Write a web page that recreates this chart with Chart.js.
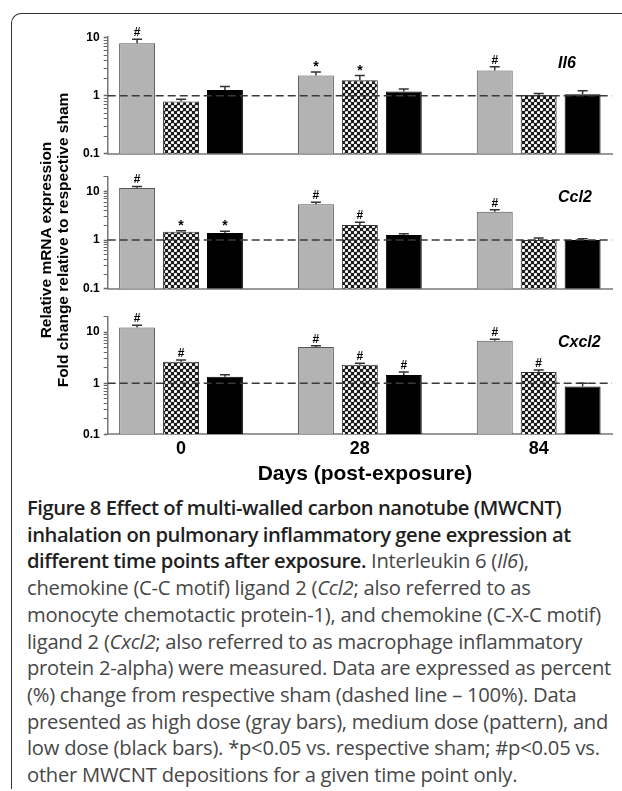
<!DOCTYPE html>
<html>
<head>
<meta charset="utf-8">
<script src="https://cdn.jsdelivr.net/npm/chart.js@4.4.1/dist/chart.umd.min.js"></script>
<style>
  body {
    margin: 0;
    width: 622px;
    height: 791px;
    overflow: hidden;
    position: relative;
    background: #fff;
    font-family: "Liberation Sans", Arial, sans-serif;
  }
  .frame {
    position: absolute;
    left: 11px;
    top: 13px;
    width: 650px;
    height: 775px;
    border-left: 1.5px solid #333;
    border-top: 1.5px solid #333;
    border-top-left-radius: 10px;
  }
  canvas { position: absolute; left: 0; }
  .gene {
    position: absolute;
    left: 558px;
    font: italic bold 16px "Liberation Sans", Arial, sans-serif;
    line-height: 18px;
  }
  .ytitle {
    position: absolute;
    left: -116px;
    top: 223px;
    width: 340px;
    height: 34px;
    transform: rotate(-90deg);
    text-align: center;
    font: bold 15.5px "Liberation Sans", Arial, sans-serif;
    line-height: 17px;
  }
  .xtitle {
    position: absolute;
    left: 215px;
    width: 300px;
    top: 460px;
    text-align: center;
    font: bold 21px "Liberation Sans", Arial, sans-serif;
    line-height: 25px;
  }
  .caption {
    position: absolute;
    left: 27px;
    top: 494px;
    white-space: nowrap;
    font-family: "Open Sans", sans-serif;
    font-size: 20.2px;
    letter-spacing: -0.25px;
    line-height: 26.7px;
    color: #474747;
  }
  .caption b { color: #1f1f1f; font-weight: 600; letter-spacing: -0.45px; }
</style>
</head>
<body>
<div class="frame"></div>

<canvas id="il6Chart" width="622" height="165" style="top:0px"></canvas>
<canvas id="ccl2Chart" width="622" height="135" style="top:165px"></canvas>
<canvas id="cxcl2Chart" width="622" height="165" style="top:300px"></canvas>

<div class="gene" style="top:54px">Il6</div>
<div class="gene" style="top:188px">Ccl2</div>
<div class="gene" style="top:333px">Cxcl2</div>

<div class="ytitle">Relative mRNA expression<br>Fold change relative to respective sham</div>
<div class="xtitle">Days (post-exposure)</div>

<div class="caption">
<b>Figure 8 Effect of multi-walled carbon nanotube (MWCNT)<br>inhalation on pulmonary inflammatory gene expression at<br>different time points after exposure.</b> Interleukin 6 (<i>Il6</i>),<br>chemokine (C-C motif) ligand 2 (<i>Ccl2</i>; also referred to as<br>monocyte chemotactic protein-1), and chemokine (C-X-C motif)<br>ligand 2 (<i>Cxcl2</i>; also referred to as macrophage inflammatory<br>protein 2-alpha) were measured. Data are expressed as percent<br>(%) change from respective sham (dashed line &ndash; 100%). Data<br>presented as high dose (gray bars), medium dose (pattern), and<br>low dose (black bars). *p&lt;0.05 vs. respective sham; #p&lt;0.05 vs.<br>other MWCNT depositions for a given time point only.
</div>

<script>
/* ================= DATA ================= */
const days = ["0", "28", "84"];
const doses = ["High dose", "Medium dose", "Low dose"];
const yTickLabels = ["0.1", "1", "10"];
const shamLevel = 1;

// rows: high, medium, low dose; columns: day 0, 28, 84
const il6Mean = [[8.1, 2.24, 2.73], [0.8, 1.86, 1.03], [1.26, 1.19, 1.07]];
const il6Se = [[1.4, 0.35, 0.46], [0.07, 0.38, 0.07], [0.19, 0.12, 0.16]];
const il6Sig = [["#", "*", "#"], ["", "*", ""], ["", "", ""]];

const ccl2Mean = [[11.7, 5.45, 3.8], [1.48, 2.05, 1.0], [1.39, 1.27, 1.0]];
const ccl2Se = [[0.9, 0.5, 0.4], [0.07, 0.27, 0.1], [0.13, 0.08, 0.06]];
const ccl2Sig = [["#", "#", "#"], ["*", "#", ""], ["*", "", ""]];

const cxcl2Mean = [[12.3, 5.08, 6.74], [2.63, 2.3, 1.66], [1.33, 1.45, 0.86]];
const cxcl2Se = [[1.3, 0.3, 0.54], [0.21, 0.15, 0.15], [0.14, 0.21, 0.14]];
const cxcl2Sig = [["#", "#", "#"], ["#", "#", "#"], ["", "#", ""]];

/* ================= STYLES ================= */
const makePattern = () => {
  const c = document.createElement("canvas");
  c.width = 6;
  c.height = 6;
  const g = c.getContext("2d");
  g.fillStyle = "#1a1a1a";
  g.fillRect(0, 0, 6, 6);
  g.fillStyle = "#fff";
  [[1.5, 1.5], [4.5, 4.5]].forEach(([x, y]) => {
    g.beginPath();
    g.arc(x, y, 1.6, 0, Math.PI * 2);
    g.fill();
  });
  return g.createPattern(c, "repeat");
};

const barFills = ["#b3b3b3", makePattern(), "#000"];
const barBorders = ["#555", "#333", "#000"];

/* ================= PLUGIN: sham line, error bars, marks ================= */
const extrasPlugin = {
  id: "extras",
  afterDatasetsDraw(chart) {
    const { ctx, chartArea, scales } = chart;
    const y = scales.y;
    const { se, sig } = chart.options.plugins.extras;

    // dashed sham line
    const y1 = y.getPixelForValue(shamLevel);
    ctx.save();
    ctx.strokeStyle = "#3a3a3a";
    ctx.lineWidth = 1.5;
    ctx.setLineDash([8, 4]);
    ctx.beginPath();
    ctx.moveTo(chartArea.left, y1);
    ctx.lineTo(chartArea.right, y1);
    ctx.stroke();
    ctx.setLineDash([]);

    chart.data.datasets.forEach((ds, di) => {
      const meta = chart.getDatasetMeta(di);
      meta.data.forEach((bar, i) => {
        const top = y.getPixelForValue(ds.data[i] + se[di][i]);
        ctx.strokeStyle = "#333";
        ctx.lineWidth = 1.5;
        ctx.beginPath();
        ctx.moveTo(bar.x, bar.y);
        ctx.lineTo(bar.x, top);
        ctx.moveTo(bar.x - 5, top);
        ctx.lineTo(bar.x + 5, top);
        ctx.stroke();

        const mark = sig[di][i];
        if (mark) {
          ctx.fillStyle = "#000";
          ctx.textAlign = "center";
          ctx.textBaseline = "alphabetic";
          ctx.font = mark === "*" ? "bold 14px 'Liberation Sans', Arial" : "bold 12px 'Liberation Sans', Arial";
          ctx.fillText(mark, bar.x, mark === "*" ? top - 1 : top - 3);
        }
      });
    });
    ctx.restore();
  },
};

/* ================= CHARTS ================= */
const buildPanel = (id, mean, se, sig, yMax, padTop, padBottom, xHeight, showDays) => {
  const logTicks = [];
  [0.1, 1, 10].forEach((d) => {
    for (let k = 1; k <= 9; k++) {
      if (d * k <= yMax + 1e-9) logTicks.push({ value: d * k, major: k === 1 });
    }
  });
  if (yMax >= 20) logTicks.push({ value: 20, major: false });

  return new Chart(document.getElementById(id), {
    type: "bar",
    data: {
      labels: [0, 1, 2],
      datasets: doses.map((dose, di) => ({
        label: dose,
        data: mean[di],
        backgroundColor: barFills[di],
        borderColor: barBorders[di],
        borderWidth: 1,
        borderSkipped: "bottom",
        barPercentage: 0.818,
        categoryPercentage: 0.737,
      })),
    },
    options: {
      responsive: false,
      animation: false,
      layout: { padding: { left: 0, right: 10, top: padTop, bottom: padBottom } },
      plugins: {
        legend: { display: false },
        tooltip: { enabled: false },
        extras: { se, sig },
      },
      scales: {
        x: {
          type: "linear",
          min: -0.41,
          max: 2.41,
          offset: false,
          grid: { display: false, drawTicks: false },
          border: { color: "#999", width: 2 },
          afterBuildTicks: (scale) => {
            scale.ticks = days.map((d, i) => ({ value: i }));
          },
          afterFit: (scale) => {
            scale.height = xHeight;
          },
          ticks: {
            display: showDays,
            padding: 4,
            color: "#000",
            font: { family: "'Liberation Sans', Arial", size: 18, weight: "bold" },
            callback: (v, i) => days[i],
          },
        },
        y: {
          type: "logarithmic",
          min: 0.1,
          max: yMax,
          grid: {
            drawOnChartArea: false,
            drawTicks: true,
            tickLength: 4,
            tickColor: "#666",
            tickWidth: (c) => (c.tick && c.tick.major ? 1.5 : 1),
          },
          border: { color: "#777", width: 1.5 },
          afterBuildTicks: (scale) => {
            scale.ticks = logTicks.map((t) => ({ ...t }));
          },
          afterFit: (scale) => {
            scale.width = 107.7;
          },
          ticks: {
            padding: 4,
            color: "#000",
            autoSkip: false,
            font: { family: "'Liberation Sans', Arial", size: 12, weight: "bold" },
            callback: (v) => {
              const idx = [0.1, 1, 10].findIndex((p) => Math.abs(p - v) < 1e-9);
              return idx >= 0 ? yTickLabels[idx] : "";
            },
          },
        },
      },
    },
    plugins: [extrasPlugin],
  });
};

buildPanel("il6Chart", il6Mean, il6Se, il6Sig, 10.5, 36.7, 10, 0, false);
buildPanel("ccl2Chart", ccl2Mean, ccl2Se, ccl2Sig, 20, 11.7, 5, 0, false);
buildPanel("cxcl2Chart", cxcl2Mean, cxcl2Se, cxcl2Sig, 20, 16.7, 0, 30.7, true);
</script>
</body>
</html>
